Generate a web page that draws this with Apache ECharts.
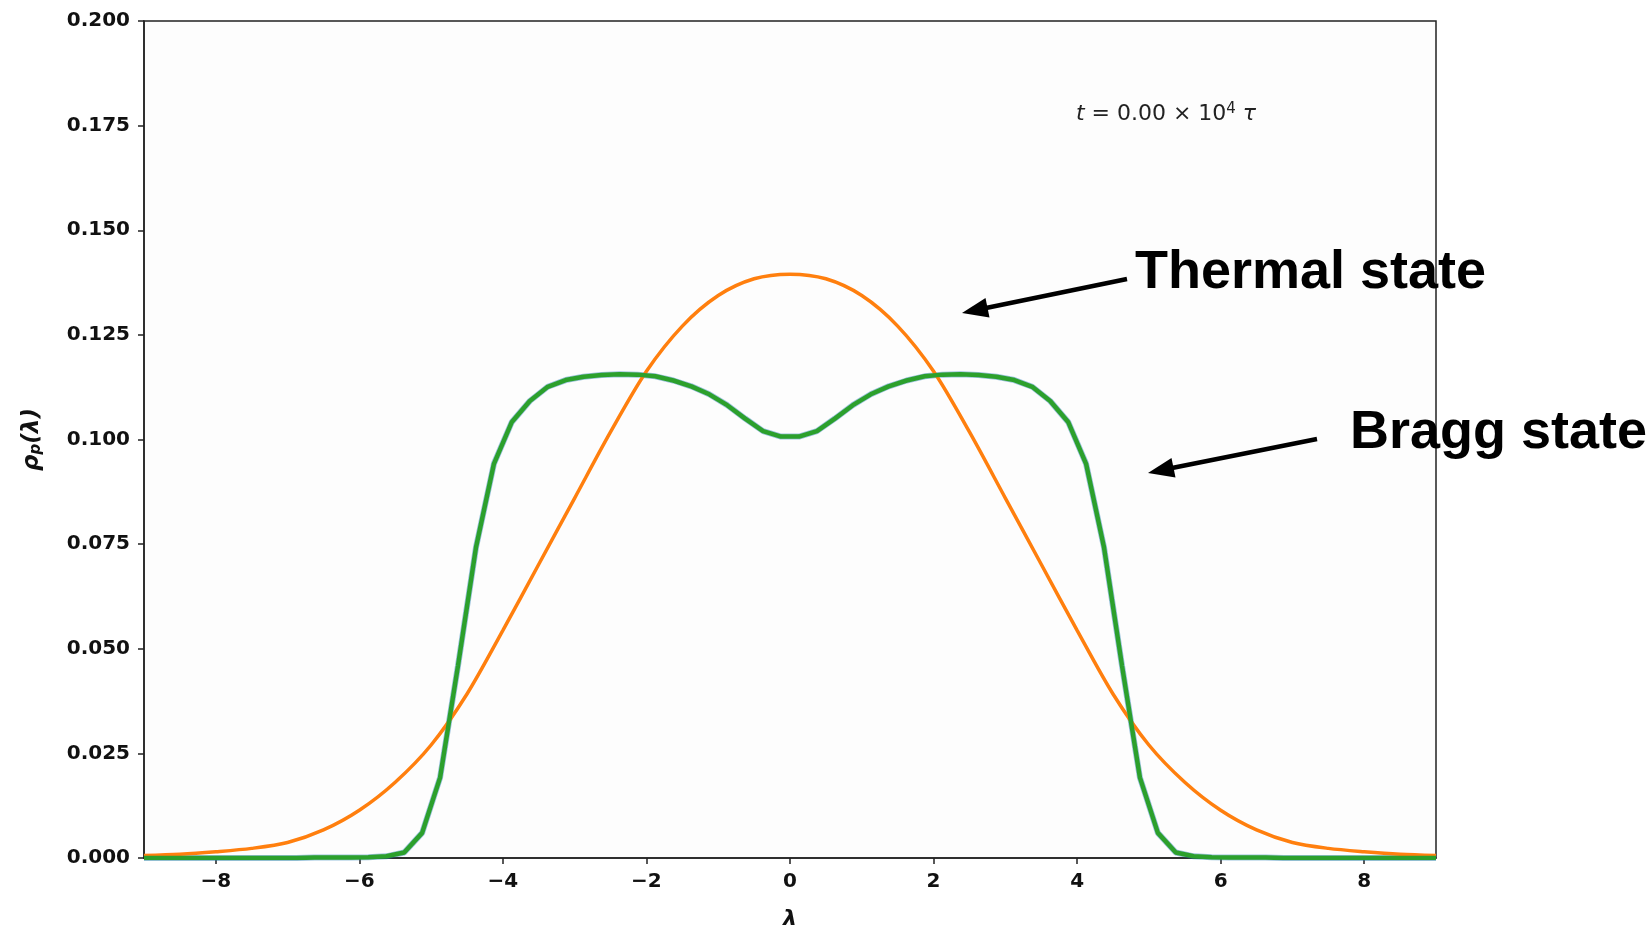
<!DOCTYPE html>
<html><head><meta charset="utf-8">
<script src="https://cdn.jsdelivr.net/npm/echarts@6/dist/echarts.min.js"></script>
<style>html,body{margin:0;padding:0;background:#fff}#c{width:1652px;height:927px}</style>
</head><body><div id="c"></div>
<script>
// Thermal state (orange)
const lambdaThermal = [-9,-8.5,-8,-7.5,-7,-6.5,-6,-5.5,-5,-4.5,-4,-3.5,-3,-2.5,-2,-1.5,-1,-0.5,0,
  0.5,1,1.5,2,2.5,3,3.5,4,4.5,5,5.5,6,6.5,7,7.5,8,8.5,9];
const thermal = [0.0006,0.0009,0.0015,0.0023,0.0037,0.0067,0.0114,0.0181,0.0270,0.0392,0.0544,0.0702,0.0860,0.1018,0.1163,0.1271,0.1344,0.1384,0.1395,
  0.1384,0.1344,0.1271,0.1163,0.1018,0.0860,0.0702,0.0544,0.0392,0.0270,0.0181,0.0114,0.0067,0.0037,0.0023,0.0015,0.0009,0.0006];
// Bragg state (green, with blue underneath)
const lambdaBragg = [-9,-8.875,-8.625,-8.375,-8.125,-7.875,-7.625,-7.375,-7.125,-6.875,-6.625,-6.375,-6.125,-5.875,-5.625,-5.375,-5.125,-4.875,-4.625,-4.375,-4.125,-3.875,-3.625,-3.375,-3.125,-2.875,-2.625,-2.375,-2.125,-1.875,-1.625,-1.375,-1.125,-0.875,-0.625,-0.375,-0.125,
  0.125,0.375,0.625,0.875,1.125,1.375,1.625,1.875,2.125,2.375,2.625,2.875,3.125,3.375,3.625,3.875,4.125,4.375,4.625,4.875,5.125,5.375,5.625,5.875,6.125,6.375,6.625,6.875,7.125,7.375,7.625,7.875,8.125,8.375,8.625,8.875,9];
const bragg = [0.0000,0.0000,0.0000,0.0000,0.0000,0.0000,0.0000,0.0000,0.0000,0.0000,0.0001,0.0001,0.0001,0.0002,0.0004,0.0013,0.0060,0.0192,0.0460,0.0742,0.0942,0.1042,0.1092,0.1126,0.1142,0.1150,0.1154,0.1156,0.1155,0.1151,0.1141,0.1127,0.1108,0.1082,0.1050,0.1020,0.1007,
  0.1007,0.1020,0.1050,0.1082,0.1108,0.1127,0.1141,0.1151,0.1155,0.1156,0.1154,0.1150,0.1142,0.1126,0.1092,0.1042,0.0942,0.0742,0.0460,0.0192,0.0060,0.0013,0.0004,0.0002,0.0001,0.0001,0.0001,0.0000,0.0000,0.0000,0.0000,0.0000,0.0000,0.0000,0.0000,0.0000,0.0000];
const xTicks = [-8,-6,-4,-2,0,2,4,6,8];

const pairs = (xs, ys) => xs.map((x, i) => [x, ys[i]]);
const axisColor = '#222';
const labelStyle = {fontFamily: 'DejaVu Sans', fontWeight: 'bold', fontSize: 20, color: '#111'};

const chart = echarts.init(document.getElementById('c'), null, {renderer: 'canvas'});
chart.setOption({
  animation: false,
  backgroundColor: '#ffffff',
  grid: {left: 144, right: 216, top: 21, bottom: 69, show: true, borderColor: axisColor, borderWidth: 1.5, backgroundColor: '#fdfdfd', containLabel: false, outerBoundsMode: 'none'},
  xAxis: {
    type: 'value', min: -9, max: 9,
    axisLine: {show: true, onZero: false, lineStyle: {color: axisColor, width: 1.5}},
    axisTick: {show: true, customValues: xTicks, length: 6, lineStyle: {color: axisColor, width: 1.5}},
    axisLabel: Object.assign({customValues: xTicks, margin: 14, formatter: v => String(v).replace('-', '\u2212')}, labelStyle),
    splitLine: {show: false},
    name: 'λ', nameLocation: 'middle', nameGap: 50,
    nameTextStyle: {fontFamily: 'DejaVu Sans', fontWeight: 'bold', fontStyle: 'italic', fontSize: 22, color: '#111'}
  },
  yAxis: {
    type: 'value', min: 0, max: 0.2, interval: 0.025,
    axisLine: {show: true, onZero: false, lineStyle: {color: axisColor, width: 1.5}},
    axisTick: {show: true, length: 6, lineStyle: {color: axisColor, width: 1.5}},
    axisLabel: Object.assign({margin: 14, formatter: v => v.toFixed(3)}, labelStyle),
    splitLine: {show: false},
    name: '{r|ρ}{s|p}{r|(λ)}', nameLocation: 'middle', nameGap: 100, nameRotate: 90,
    nameTextStyle: {
      rich: {
        r: {fontFamily: 'DejaVu Sans', fontWeight: 'bold', fontStyle: 'italic', fontSize: 23, color: '#111'},
        s: {fontFamily: 'DejaVu Sans', fontWeight: 'bold', fontStyle: 'italic', fontSize: 15, color: '#111', verticalAlign: 'bottom', padding: [8, 0, 0, 0]}
      }
    }
  },
  series: [
    {type: 'line', data: pairs(lambdaBragg, bragg), showSymbol: false, lineStyle: {color: '#1f77b4', width: 6, opacity: 0.45}, z: 1},
    {type: 'line', data: pairs(lambdaThermal, thermal), showSymbol: false, smooth: 0.3, smoothConstraint: false, lineStyle: {color: '#ff7f0e', width: 3.5}, z: 2},
    {type: 'line', data: pairs(lambdaBragg, bragg), showSymbol: false, lineStyle: {color: '#2ca02c', width: 4.5}, z: 3}
  ],
  graphic: [
    {type: 'text', x: 1166, y: 114, style: {
      text: '{i|t} = 0.00 × 10{s|4} {i|τ}', align: 'center', verticalAlign: 'middle',
      rich: {
        i: {fontFamily: 'DejaVu Sans', fontStyle: 'italic', fontSize: 22, fill: '#222'},
        s: {fontFamily: 'DejaVu Sans', fontSize: 15, fill: '#222', verticalAlign: 'top', padding: [0, 0, 10, 0]}
      },
      fontFamily: 'DejaVu Sans', fontSize: 22, fill: '#222'
    }},
    {type: 'text', x: 1135, y: 273, style: {text: 'Thermal state', align: 'left', verticalAlign: 'middle', fontFamily: 'Liberation Sans', fontWeight: 'bold', fontSize: 54, fill: '#000'}},
    {type: 'text', x: 1350, y: 433, style: {text: 'Bragg state', align: 'left', verticalAlign: 'middle', fontFamily: 'Liberation Sans', fontWeight: 'bold', fontSize: 54, fill: '#000'}},
    {type: 'polyline', shape: {points: [[1127, 279], [986, 308]]}, style: {stroke: '#000', lineWidth: 4.5}},
    {type: 'polygon', shape: {points: [[962, 313], [989.5, 317.6], [985.5, 298.0]]}, style: {fill: '#000'}},
    {type: 'polyline', shape: {points: [[1317, 439], [1172, 468]]}, style: {stroke: '#000', lineWidth: 4.5}},
    {type: 'polygon', shape: {points: [[1148, 473], [1175.5, 477.6], [1171.5, 458.0]]}, style: {fill: '#000'}}
  ]
});
</script>
</body></html>
